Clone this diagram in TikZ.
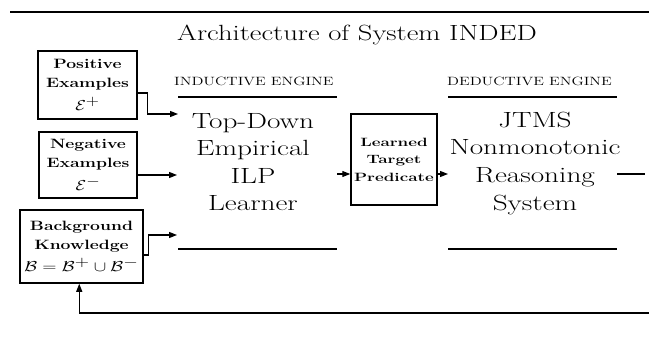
\documentclass[tikz,border=0pt]{standalone}
\usepackage{graphicx}
\usepackage{amssymb}
\usetikzlibrary{arrows.meta,calc}
\newcommand\hs[2][1.33]{\scalebox{#1}[1]{#2}}
\begin{document}
\begin{tikzpicture}[x=1pt,y=-1pt,
  box/.style={draw, line width=1.5pt, inner sep=0pt, align=center, font=\fontsize{13.5}{19}\selectfont\bfseries},
  arr/.style={-{Triangle[length=8pt,width=6pt]}, line width=1.3pt},
  rulel/.style={line width=1.4pt},
  big/.style={align=center, font=\fontsize{22}{27.5}\selectfont, anchor=base, inner sep=0pt},
  head/.style={anchor=base west, font=\fontsize{12}{14}\selectfont, inner sep=0pt}]
\useasboundingbox (0,0) rectangle (649,337);
\coordinate (topL) at (10,12);
\coordinate (topR) at (649,12);
\draw[line width=1.8pt] (topL) -- (topR);
\node[anchor=base, inner sep=0pt, font=\fontsize{22}{24}\selectfont] (title) at (357,41) {\hs[1.3]{Architecture of System INDED}};
\node[head] (indh) at (174,86) {\hs[1.33]{INDUCTIVE ENGINE}};
\node[head] (dedh) at (447,86) {\hs[1.33]{DEDUCTIVE ENGINE}};
\coordinate (iu1) at (178,97); \coordinate (iu2) at (337,97);
\coordinate (du1) at (448,97); \coordinate (du2) at (617,97);
\coordinate (ib1) at (178,249); \coordinate (ib2) at (337,249);
\coordinate (db1) at (448,249); \coordinate (db2) at (617,249);
\draw[rulel] (iu1) -- (iu2);
\draw[rulel] (du1) -- (du2);
\draw[rulel] (ib1) -- (ib2);
\draw[rulel] (db1) -- (db2);
\node[big] (ind) at (253,211) {\hs{Top-Down}\\\hs{Empirical}\\\hs{ILP}\\\hs{Learner}};
\node[big] (ded) at (535,210) {\hs{JTMS}\\\hs{Nonmonotonic}\\\hs{Reasoning}\\\hs{System}};
\node[box, minimum width=99pt, minimum height=68pt] (pos) at (87.5,85) {\hs[1.3]{Positive}\\\hs[1.3]{Examples}\\[4pt]\hs[1.2]{\fontsize{15}{19}\selectfont$\mathcal{E}^{\textstyle +}$}};
\node[box, minimum width=98pt, minimum height=66pt] (neg) at (88,165) {\hs[1.3]{Negative}\\\hs[1.3]{Examples}\\[4pt]\hs[1.2]{\fontsize{15}{19}\selectfont$\mathcal{E}^{\textstyle -}$}};
\node[box, minimum width=123pt, minimum height=73pt] (bk) at (81.5,246.5) {\hs[1.3]{Background}\\\hs[1.3]{Knowledge}\\[3pt]\hs[1.3]{\fontsize{14.5}{19}\selectfont$\mathcal{B}=\mathcal{B}^{\textstyle +}\cup\mathcal{B}^{\textstyle -}$}};
\node[box, minimum width=86pt, minimum height=91pt, font=\fontsize{12}{17.5}\selectfont\bfseries] (ltp) at (394,159.5) {\hs[1.42]{Learned}\\\hs[1.42]{Target}\\\hs[1.42]{Predicate}};
\coordinate (inP) at (178,114);
\coordinate (inN) at (177,175);
\coordinate (inB) at (177,235);
\coordinate (fb) at (649,313);
\coordinate (lout) at (337,174);
\coordinate (dIn) at (448,174);
\coordinate (dOut) at (617,174);
\coordinate (dEnd) at (645,174);
\draw[arr] ($(pos.east)+(0,8)$) -- ++(10,0) |- (inP);
\draw[arr] (neg.east |- inN) -- (inN);
\draw[arr] ($(bk.east)+(0,8.5)$) -- ++(5,0) |- (inB);
\draw[arr] (fb) -| ($(bk.south west)+(60,0)$);
\draw[arr] (lout) -- (ltp.west |- lout);
\draw[arr] (ltp.east |- lout) -- (dIn);
\draw[line width=1.3pt] (dOut) -- (dEnd);
\end{tikzpicture}
\end{document}
